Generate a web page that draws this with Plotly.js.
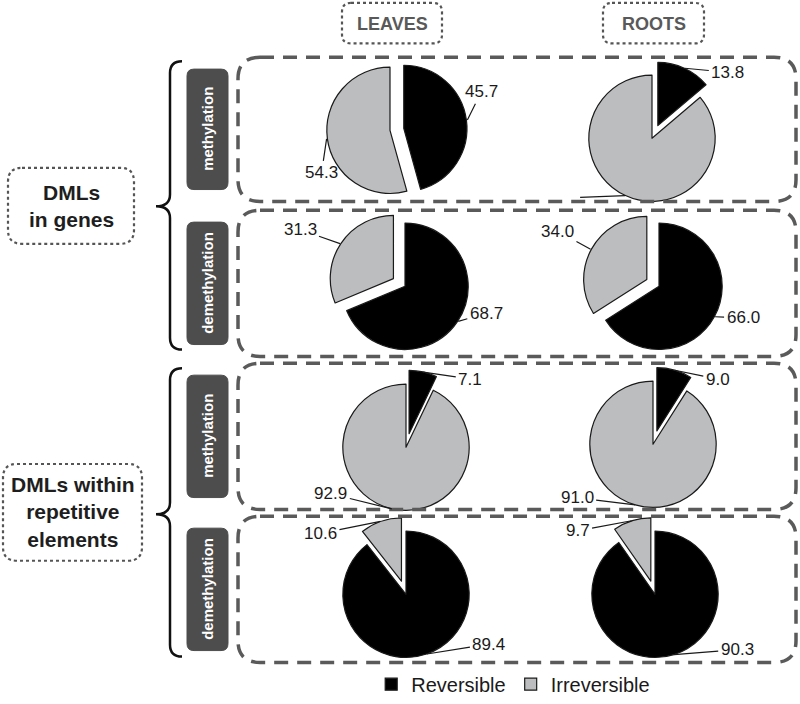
<!DOCTYPE html>
<html>
<head>
<meta charset="utf-8">
<script src="https://cdn.plot.ly/plotly-3.0.1.min.js"></script>
<style>
  body { margin: 0; background: #fff; }
  #chart { width: 800px; height: 704px; }
</style>
</head>
<body>
<div id="chart"></div>
<script>
// data: % of DMLs, one entry per panel
var panels = ["leaves-genes-meth", "roots-genes-meth", "leaves-genes-demeth", "roots-genes-demeth",
              "leaves-rep-meth", "roots-rep-meth", "leaves-rep-demeth", "roots-rep-demeth"];
var reversible   = [45.7, 13.8, 68.7, 66.0, 7.1, 9.0, 89.4, 90.3];
var irreversible = [54.3, 86.2, 31.3, 34.0, 92.9, 91.0, 10.6, 9.7];
var sliceNames = ["Reversible", "Irreversible"];
var columns = ["LEAVES", "ROOTS"];
var rowLabels = ["methylation", "demethylation", "methylation", "demethylation"];
var groups = ["DMLs<br>in genes", "DMLs within<br>repetitive<br>elements"];

var W = 800, H = 704;
var FONT = "Liberation Sans, Arial, sans-serif";
var R = 64, PULL = 0.22;
// pie centres in pixels
var centers = [[390, 132], [652, 140], [405, 290], [659, 290],
               [406, 453], [653, 450], [406, 602], [655, 602]];
// label offsets [dx, dy] from the slice edge, per panel: [reversible, irreversible]
var labelOff = [
  [[14, -28], [-5, 34]],
  [[43, 4], [-50, 2]],
  [[28, -8], [-40, -14]],
  [[28, 1], [-33, -18]],
  [[47, 7], [-61, -15]],
  [[43, 9], [-58, -7]],
  [[62, -10], [-60, 12]],
  [[63, -5], [-54, 10]]
];
var hideLabel = [[false, false], [false, true], [false, false], [false, false],
                 [false, false], [false, false], [false, false], [false, false]];

function px(x) { return x / W; }
function py(y) { return 1 - y / H; }
function P(x, y) { return px(x) + "," + py(y); }

function rrect(x0, y0, x1, y1, r) {
  return "M" + P(x0 + r, y0) + " L" + P(x1 - r, y0) + " Q" + P(x1, y0) + " " + P(x1, y0 + r) +
    " L" + P(x1, y1 - r) + " Q" + P(x1, y1) + " " + P(x1 - r, y1) +
    " L" + P(x0 + r, y1) + " Q" + P(x0, y1) + " " + P(x0, y1 - r) +
    " L" + P(x0, y0 + r) + " Q" + P(x0, y0) + " " + P(x0 + r, y0) + " Z";
}

function brace(xr, xm, xt, top, tip, bot) {
  return "M" + P(xr, top) + " Q" + P(xm, top) + " " + P(xm, top + 12) +
    " L" + P(xm, tip - 12) + " Q" + P(xm, tip) + " " + P(xt, tip) +
    " Q" + P(xm, tip) + " " + P(xm, tip + 12) +
    " L" + P(xm, bot - 12) + " Q" + P(xm, bot) + " " + P(xr, bot);
}

function label(x, y, text, size, color, angle) {
  return { xref: "paper", yref: "paper", x: px(x), y: py(y), xanchor: "center", yanchor: "middle",
    text: text, textangle: angle || 0, showarrow: false,
    font: { family: FONT, size: size, color: color } };
}

var data = [];
var annotations = [];
var half = R * (1 + PULL);

for (var i = 0; i < panels.length; i++) {
  var vals = [reversible[i], irreversible[i]];
  var small = vals[0] < vals[1] ? 0 : 1;
  var pulls = vals.map(function (v, k) { return k === small ? PULL : 0; });
  var c = centers[i];
  data.push({
    type: "pie",
    name: panels[i],
    labels: sliceNames,
    values: vals,
    sort: false,
    direction: "clockwise",
    rotation: 0,
    pull: pulls,
    textinfo: "none",
    hoverinfo: "label+value",
    marker: { colors: ["#000000", "#bcbdbf"], line: { color: "#1a1a1a", width: 1.2 } },
    domain: { x: [px(c[0] - half), px(c[0] + half)], y: [py(c[1] + half), py(c[1] - half)] },
    showlegend: i === 0
  });

  // value labels with leader lines, anchored at the middle of each slice edge
  var total = vals[0] + vals[1];
  var start = 0;
  for (var k = 0; k < 2; k++) {
    var mid = (start + vals[k] / 2) / total * 2 * Math.PI;
    start += vals[k];
    var rr = R + pulls[k] * R;
    var ex = c[0] + rr * Math.sin(mid);
    var ey = c[1] - rr * Math.cos(mid);
    annotations.push({
      xref: "paper", yref: "paper", x: px(ex), y: py(ey),
      ax: labelOff[i][k][0], ay: labelOff[i][k][1],
      text: hideLabel[i][k] ? " " : vals[k].toFixed(1),
      showarrow: true, arrowhead: 0, arrowwidth: 1.2, arrowcolor: "#1a1a1a",
      standoff: 0, startstandoff: 1,
      font: { family: FONT, size: 17, color: "#1a1a1a" }
    });
  }
}

var shapes = [];
// dashed row frames
var rows = [[58, 204], [213, 361], [368, 516], [523, 671]];
rows.forEach(function (r, j) {
  shapes.push({ type: "path", xref: "paper", yref: "paper", path: rrect(238, r[0], 796, r[1], 22),
    line: { color: "#5a5a5a", width: 3.5, dash: "14px,9px" } });
  shapes.push({ type: "path", xref: "paper", yref: "paper", path: rrect(187, r[0] + 12, 228, r[1] - 12, 7),
    fillcolor: "#4d4d4d", line: { color: "#4d4d4d", width: 1 } });
  annotations.push(label(207.5, (r[0] + r[1]) / 2, "<b>" + rowLabels[j] + "</b>", 15, "#ffffff", -90));
});

// column headers
var headX = [[342, 442], [603, 704]];
columns.forEach(function (t, j) {
  shapes.push({ type: "path", xref: "paper", yref: "paper", path: rrect(headX[j][0], 3, headX[j][1], 44, 9),
    line: { color: "#555555", width: 2.2, dash: "dot" } });
  annotations.push(label((headX[j][0] + headX[j][1]) / 2, 24, "<b>" + t + "</b>", 18, "#595959"));
});

// braces and group boxes
shapes.push({ type: "path", xref: "paper", yref: "paper", path: brace(182, 170, 156, 62, 209, 354),
  line: { color: "#111111", width: 2.5 } });
shapes.push({ type: "path", xref: "paper", yref: "paper", path: brace(182, 170, 156, 373, 521, 665),
  line: { color: "#111111", width: 2.5 } });

var groupBox = [[8, 170, 134, 247], [3, 470, 142, 568]];
groups.forEach(function (t, j) {
  var b = groupBox[j];
  shapes.push({ type: "path", xref: "paper", yref: "paper", path: rrect(b[0], b[1], b[2], b[3], 14),
    line: { color: "#555555", width: 2.2, dash: "dot" } });
  annotations.push(label((b[0] + b[2]) / 2, (b[1] + b[3]) / 2, "<b>" + t + "</b>", 21, "#1e1e1e"));
});

var layout = {
  width: W, height: H,
  margin: { l: 0, r: 0, t: 0, b: 0 },
  paper_bgcolor: "#ffffff",
  showlegend: true,
  legend: {
    orientation: "h", x: 0.464, xanchor: "left", y: py(693), yanchor: "middle",
    font: { family: FONT, size: 20, color: "#1a1a1a" },
    itemwidth: 30, traceorder: "normal"
  },
  shapes: shapes,
  annotations: annotations
};

Plotly.newPlot("chart", data, layout, { displayModeBar: false, staticPlot: true });
</script>
</body>
</html>
